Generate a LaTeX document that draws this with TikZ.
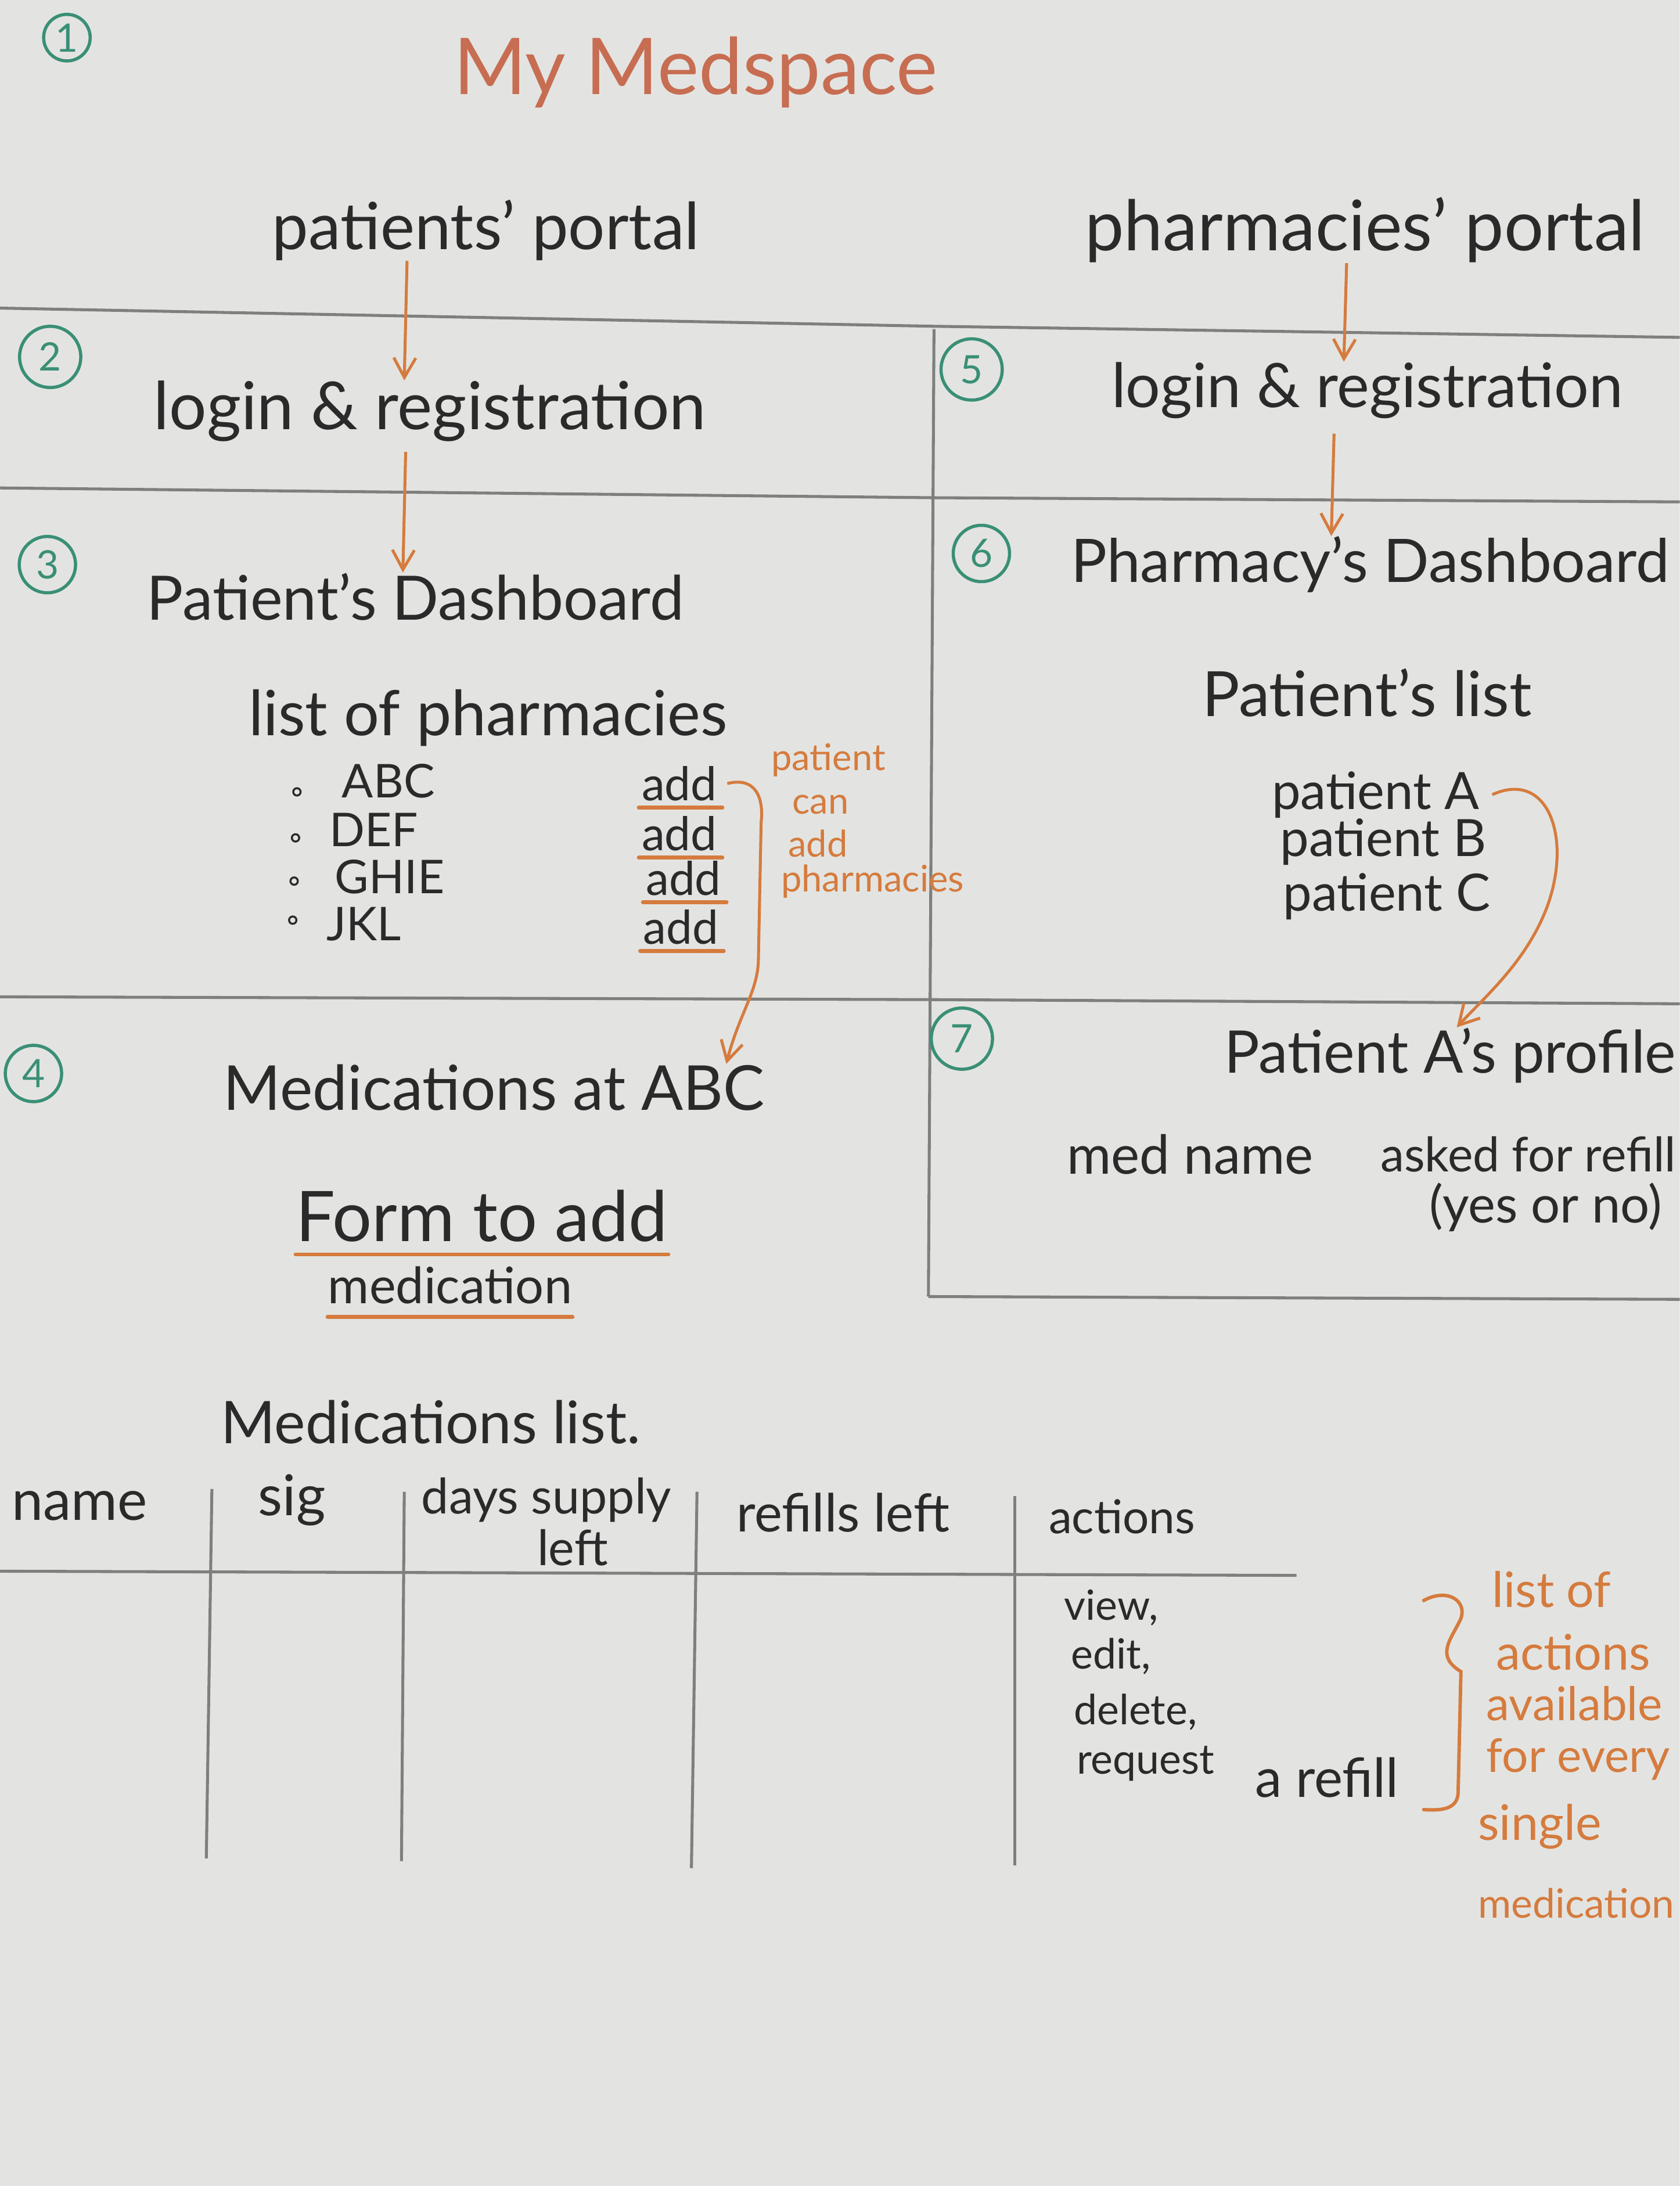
\documentclass[tikz,border=0pt]{standalone}
\usepackage{fontspec}
\setmainfont{Lato}
\usetikzlibrary{arrows.meta}

\definecolor{paper}{HTML}{E3E4E1}
\definecolor{ink}{HTML}{2A2A2A}
\definecolor{rulegrey}{HTML}{7E807D}
\definecolor{marker}{HTML}{D57B3E}
\definecolor{titlered}{HTML}{C76D52}
\definecolor{stepgreen}{HTML}{3A8F76}

\newcommand\fsz[1]{\fontsize{#1}{#1}\selectfont}

\tikzset{
  hand/.style={text=ink, inner sep=0pt, anchor=west},
  note/.style={text=marker, inner sep=0pt, anchor=west},
  ruled/.style={draw=rulegrey, line width=1.2pt},
  underline/.style={draw=marker, line width=1.6pt, line cap=round},
  flow/.style={draw=marker, line width=1.2pt, -{Straight Barb[length=8pt,width=9pt]}},
  stepnum/.style={circle, draw=stepgreen, text=stepgreen, line width=1.3pt,
                  inner sep=0pt, minimum size=23pt, font=\fsz{16}},
  bullet/.style={circle, draw=ink, line width=0.8pt, inner sep=0pt, minimum size=3pt},
}

\begin{document}
\begin{tikzpicture}[x=0.02cm,y=-0.02cm]
\useasboundingbox (0,0) rectangle (1205,1568);
\clip (0,0) rectangle (1205,1568);
\fill[paper] (0,0) rectangle (1205,1568);

% ---- page rules ----
\draw[ruled] (0,221) -- (668,234) -- (1205,242);
\draw[ruled] (670,236) -- (666,930);
\draw[ruled] (0,350) -- (668,357) -- (1205,360);
\draw[ruled] (0,715) -- (666,717) -- (1205,720);
\draw[ruled] (666,930) -- (1205,932);

% ---- medications table rules ----
\draw[ruled] (0,1127) -- (930,1130);
\draw[ruled] (152,1068) -- (148,1333);
\draw[ruled] (290,1070) -- (288,1335);
\draw[ruled] (500,1070) -- (496,1340);
\draw[ruled] (728,1073) -- (728,1338);

% ---- step numbers ----
\node[stepnum, minimum size=19pt] (s1) at (48,27) {1};
\node[stepnum, minimum size=25pt] (s2) at (36,256) {2};
\node[stepnum] (s3) at (34,405) {3};
\node[stepnum] (s4) at (24,770) {4};
\node[stepnum, minimum size=25pt] (s5) at (697,265) {5};
\node[stepnum] (s6) at (704,397) {6};
\node[stepnum, minimum size=25pt] (s7) at (690,745) {7};

% ---- title and portals ----
\node[hand, text=titlered, font=\fsz{32}] (title) at (325,52) {My Medspace};
\node[hand, font=\fsz{26.5}] (pp) at (195,165) {patients' portal};
\node[hand, font=\fsz{28.5}] (php) at (778,165) {pharmacies' portal};

% ---- patients' side ----
\node[hand, font=\fsz{27}] (lr1) at (110,295) {login \& registration};
\node[hand, font=\fsz{25}] (pd) at (105,428) {Patient's Dashboard};
\node[hand, font=\fsz{25.5}] (lop) at (178,515) {list of pharmacies};

\node[bullet] (b1) at (213,568) {};
\node[bullet] (b2) at (212,601) {};
\node[bullet] (b3) at (211,632) {};
\node[bullet] (b4) at (210,660) {};
\node[hand, font=\fsz{19}] (abc) at (245,560) {ABC};
\node[hand, font=\fsz{19}] (def) at (236,595) {DEF};
\node[hand, font=\fsz{19}] (ghie) at (240,629) {GHIE};
\node[hand, font=\fsz{19}] (jkl) at (234,663) {JKL};

\node[hand, font=\fsz{19}] (add1) at (460,562) {add};
\node[hand, font=\fsz{19}] (add2) at (460,598) {add};
\node[hand, font=\fsz{19}] (add3) at (463,630) {add};
\node[hand, font=\fsz{19}] (add4) at (461,665) {add};
\foreach \a in {add1,add2,add3,add4}
  \draw[underline] ([xshift=-1pt,yshift=-2.5pt]\a.south west) -- ([xshift=2pt,yshift=-2.5pt]\a.south east);

\node[note, font=\fsz{15}] (n1) at (553,545) {patient};
\node[note, font=\fsz{15}] (n2) at (568,577) {can};
\node[note, font=\fsz{15}] (n3) at (565,605) {add};
\node[note, font=\fsz{15}] (n4) at (560,632) {pharmacies};

\node[hand, font=\fsz{25.3}] (mat) at (160,780) {Medications at ABC};
\node[hand, font=\fsz{28.5}] (form) at (212,872) {Form to add};
\node[hand, font=\fsz{20.5}] (medc) at (235,922) {medication};
\draw[underline] ([yshift=-5pt]form.south west) -- ([yshift=-5pt]form.south east);
\draw[underline] ([yshift=-5pt]medc.south west) -- ([yshift=-5pt]medc.south east);

\node[hand, font=\fsz{24}] (mlist) at (158,1020) {Medications list.};

% ---- table headers ----
\node[hand, font=\fsz{23}] (hname) at (8,1080) {name};
\node[hand, font=\fsz{23}] (hsig) at (185,1076) {sig};
\node[hand, font=\fsz{20}] (hdays) at (302,1076) {days supply};
\node[hand, font=\fsz{20}] (hleft) at (385,1110) {left};
\node[hand, font=\fsz{21.5}] (hrefills) at (528,1085) {refills left};
\node[hand, font=\fsz{19}] (hact) at (752,1088) {actions};

\node[hand, font=\fsz{17}] (view) at (763,1153) {view,};
\node[hand, font=\fsz{17}] (edit) at (768,1188) {edit,};
\node[hand, font=\fsz{17}] (del) at (770,1228) {delete,};
\node[hand, font=\fsz{17}] (req) at (772,1265) {request};
\node[hand, font=\fsz{22}] (refill) at (900,1275) {a refill};

\node[note, font=\fsz{20}] (m1) at (1070,1140) {list of};
\node[note, font=\fsz{20}] (m2) at (1073,1185) {actions};
\node[note, font=\fsz{19}] (m3) at (1066,1222) {available};
\node[note, font=\fsz{19}] (m4) at (1066,1262) {for every};
\node[note, font=\fsz{20}] (m5) at (1060,1310) {single};
\node[note, font=\fsz{16.5}] (m6) at (1060,1365) {medication};

% ---- pharmacies' side ----
\node[hand, font=\fsz{25}] (lr2) at (797,280) {login \& registration};
\node[hand, font=\fsz{24.5}] (phd) at (768,405) {Pharmacy's Dashboard};
\node[hand, font=\fsz{25.5}] (ptl) at (862,497) {Patient's list};
\node[hand, font=\fsz{21}] (pA) at (912,570) {patient A};
\node[hand, font=\fsz{21}] (pB) at (918,604) {patient B};
\node[hand, font=\fsz{21}] (pC) at (920,643) {patient C};
\node[hand, font=\fsz{24}] (pap) at (878,757) {Patient A's profile};
\node[hand, font=\fsz{22}] (medn) at (765,828) {med name};
\node[hand, font=\fsz{19.5}] (asked) at (990,828) {asked for refill};
\node[hand, font=\fsz{21}] (yesno) at (1025,866) {(yes or no)};

% ---- flow arrows ----
\draw[flow] (pp.south -| 292,0) -- (lr1.north -| 290,0);
\draw[flow] ([yshift=-4pt]lr1.south -| 291,0) -- (pd.north -| 289,0);
\draw[flow] (php.south -| 966,0) -- (lr2.north -| 964,0);
\draw[flow] ([yshift=-6pt]lr2.south -| 957,0) -- (phd.north -| 955,0);

% add pharmacies -> medications at the pharmacy
\draw[flow] ([xshift=4pt]add1.east) .. controls (542,557) and (548,572) .. (546,590)
  -- (544,690) .. controls (543,712) and (530,728) .. (mat.north -| 521,0);

% selected patient -> patient profile
\draw[flow] ([xshift=5pt]pA.east) .. controls (1110,552) and (1128,600) .. (1110,650)
  .. controls (1095,690) and (1065,715) .. (pap.north -| 1045,0);

% brace grouping the row actions
\draw[underline, line width=1.4pt] ([xshift=10pt]refill.east |- 0,1148)
  .. controls (1040,1138) and (1054,1150) .. (1047,1163)
  .. controls (1040,1177) and (1030,1188) .. (1048,1199)
  -- (1046,1285) .. controls (1046,1297) and (1036,1299) .. ([xshift=10pt]refill.east |- 0,1298);

\end{tikzpicture}
\end{document}
